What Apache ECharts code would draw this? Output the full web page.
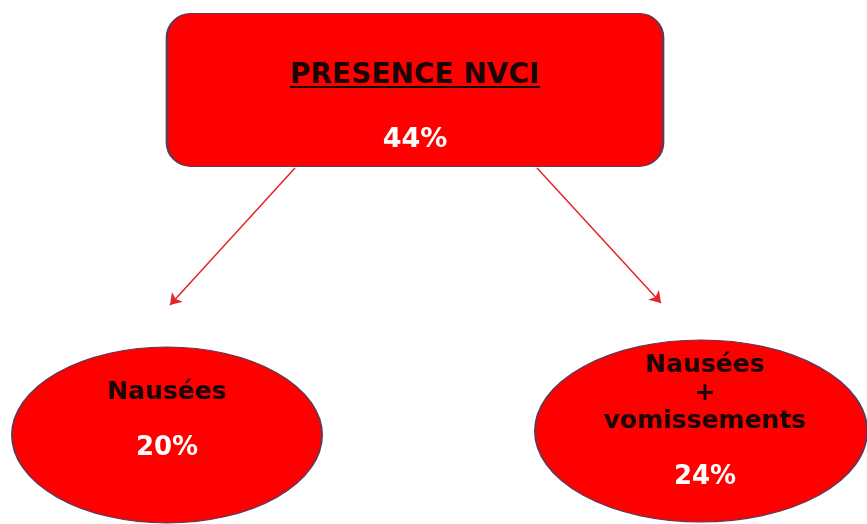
<!DOCTYPE html>
<html>
<head>
<meta charset="utf-8">
<script src="https://cdn.jsdelivr.net/npm/echarts@6/dist/echarts.min.js"></script>
<style>
  html, body { margin: 0; padding: 0; background: #ffffff; }
  #chart { width: 867px; height: 524px; }
</style>
</head>
<body>
<div id="chart"></div>
<script>
// Diagram content: the overall rate and its two breakdowns
const nodeNames = ['PRESENCE NVCI', 'Nausées', 'Nausées\n+\nvomissements'];
const nodeValues = [44, 20, 24];

// Layout of the boxes on a 867 x 524 pixel canvas (x, y = centre)
const nodeCenters = [[415, 90], [167, 435], [701, 431]];
const nodeSizes = [[496, 153], [310, 176], [332, 182]];
const nodeLabelOffsets = [[0, 38], [0, -15], [4, 4]];

// Arrows from the top box down to each breakdown
const arrowPaths = [
  [[295, 168], [170, 305]],
  [[537, 168], [661, 303]]
];

const RED = '#ff0000';
const EDGE = '#6a3552';
const FONT = 'DejaVu Sans';
const DARK = '#1a0505';

const roundRectPath = 'path://M24,0H472A24,24,0,0,1,496,24V129A24,24,0,0,1,472,153H24A24,24,0,0,1,0,129V24A24,24,0,0,1,24,0Z';
const ellipsePath = 'path://M0,50A50,50,0,1,1,100,50A50,50,0,1,1,0,50Z';

function labelFor(i) {
  const pct = nodeValues[i] + '%';
  if (i === 0) {
    return '{t|' + nodeNames[0] + '}\n{u| }\n{v0|' + pct + '}';
  }
  const parts = nodeNames[i].split('\n');
  if (parts.length === 1) {
    return '{n|' + parts[0] + '}\n{v1|' + pct + '}';
  }
  return parts.map(p => '{m|' + p + '}').join('\n') + '\n{v2|' + pct + '}';
}

const graphData = nodeNames.map((name, i) => ({
  name: name,
  value: [nodeCenters[i][0], nodeCenters[i][1], nodeValues[i]],
  symbol: i === 0 ? roundRectPath : ellipsePath,
  symbolSize: nodeSizes[i],
  label: {
    show: true,
    position: 'inside',
    align: 'center',
    offset: nodeLabelOffsets[i],
    formatter: labelFor(i)
  }
}));

const chart = echarts.init(document.getElementById('chart'), null, { renderer: 'canvas' });

chart.setOption({
  backgroundColor: '#ffffff',
  animation: false,
  grid: { left: 0, right: 0, top: 0, bottom: 0 },
  xAxis: { type: 'value', min: 0, max: 867, show: false },
  yAxis: { type: 'value', min: 0, max: 524, inverse: true, show: false },
  series: [
    {
      type: 'lines',
      coordinateSystem: 'cartesian2d',
      symbol: ['none', 'arrow'],
      symbolSize: [0, 11],
      lineStyle: { color: '#e5232b', width: 1.5, opacity: 1, curveness: 0 },
      data: arrowPaths.map(p => ({ coords: p })),
      silent: true,
      z: 1
    },
    {
      type: 'graph',
      coordinateSystem: 'cartesian2d',
      layout: 'none',
      silent: true,
      z: 2,
      itemStyle: {
        color: RED,
        borderColor: EDGE,
        borderWidth: 1.5
      },
      label: {
        fontFamily: FONT,
        rich: {
          t: { fontFamily: FONT, fontSize: 28, fontWeight: 'bold', color: DARK, lineHeight: 20 },
          u: { width: 250, height: 2, lineHeight: 3, backgroundColor: DARK, fontSize: 1 },
          v0: { fontFamily: FONT, fontSize: 27, fontWeight: 'bold', color: '#ffffff', lineHeight: 102 },
          n: { fontFamily: FONT, fontSize: 25, fontWeight: 'bold', color: DARK, lineHeight: 56 },
          v1: { fontFamily: FONT, fontSize: 26, fontWeight: 'bold', color: '#ffffff', lineHeight: 56 },
          m: { fontFamily: FONT, fontSize: 25, fontWeight: 'bold', color: DARK, lineHeight: 28 },
          v2: { fontFamily: FONT, fontSize: 26, fontWeight: 'bold', color: '#ffffff', lineHeight: 84 }
        }
      },
      data: graphData,
      links: []
    }
  ]
});
</script>
</body>
</html>
